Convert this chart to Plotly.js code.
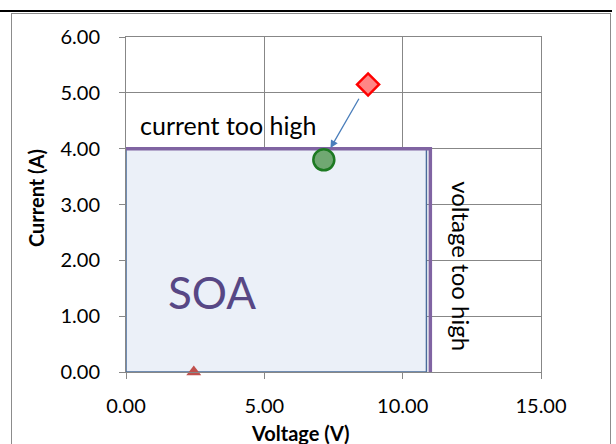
<!DOCTYPE html>
<html>
<head>
<meta charset="utf-8">
<script src="https://cdn.plot.ly/plotly-3.0.1.min.js"></script>
<style>
  html, body { margin: 0; padding: 0; background: #ffffff; }
  #wrap { position: relative; width: 616px; height: 444px; overflow: hidden; }
  #topRule { position: absolute; left: 0; top: 10px; width: 612px; height: 2px; background: #000; }
  #frame { position: absolute; left: 11px; top: 13px; width: 598px; height: 440px; border: 1px solid #8c8c8c; }
  #chart { position: absolute; left: 0; top: 0; width: 616px; height: 444px; }
</style>
</head>
<body>
<div id="wrap">
  <div id="topRule"></div>
  <div id="frame"></div>
  <div id="chart"></div>
</div>
<script>
// Safe operating area outline (voltage in V, current in A)
const soaVoltage = [0, 0, 10.86, 10.86, 0];
const soaCurrent = [0, 4, 4, 0, 0];

// Limit lines: max current 4 A, max voltage 11 V
const limitVoltage = [0, 11, 11];
const limitCurrent = [4, 4, 0];

// Operating points
const okVoltage = [7.15];
const okCurrent = [3.8];
const overVoltage = [8.75];
const overCurrent = [5.15];
const lowVoltage = [2.45];
const lowCurrent = [0];

// Arrow from the over-current point back onto the current limit
const arrowFrom = [8.45, 4.92];
const arrowTo = [7.39, 4.01];

// Axis ticks
const xTicks = [0, 5, 10, 15];
const yTicks = [0, 1, 2, 3, 4, 5, 6];

const font = 'Lato';
const grid = '#878787';

const traces = [
  {
    x: soaVoltage, y: soaCurrent, type: 'scatter', mode: 'lines',
    fill: 'toself', fillcolor: '#ebf0f8',
    line: { color: '#4a6c9b', width: 1.5 }, hoverinfo: 'skip'
  },
  {
    x: limitVoltage, y: limitCurrent, type: 'scatter', mode: 'lines',
    line: { color: '#8064a2', width: 3.5 }, hoverinfo: 'skip', cliponaxis: false
  },
  {
    x: lowVoltage, y: lowCurrent, type: 'scatter', mode: 'markers', cliponaxis: false,
    marker: { symbol: 'triangle-up', size: 13, color: '#c0504d', line: { width: 0 } }
  },
  {
    x: okVoltage, y: okCurrent, type: 'scatter', mode: 'markers', cliponaxis: false,
    marker: { symbol: 'circle', size: 21, color: '#70a872', line: { color: '#1d7a22', width: 2.5 } }
  },
  {
    x: overVoltage, y: overCurrent, type: 'scatter', mode: 'markers', cliponaxis: false,
    marker: { symbol: 'diamond', size: 17, color: '#ff8585', line: { color: '#ff0000', width: 2.5 } }
  }
];

const layout = {
  width: 616, height: 444,
  margin: { l: 126, r: 75, t: 37, b: 72 },
  paper_bgcolor: 'rgba(0,0,0,0)', plot_bgcolor: 'rgba(0,0,0,0)',
  showlegend: false,
  font: { family: font, size: 20, color: '#000' },
  xaxis: {
    range: [0, 15], tickmode: 'array', tickvals: xTicks, tickformat: '.2f',
    showgrid: true, gridcolor: grid, gridwidth: 1,
    showline: true, mirror: true, linecolor: grid, linewidth: 1,
    zeroline: false, ticks: 'outside', ticklen: 6, tickcolor: grid,
    ticklabelstandoff: 10,
    tickfont: { family: font, size: 20, color: '#000' }
  },
  yaxis: {
    range: [0, 6], tickmode: 'array', tickvals: yTicks, tickformat: '.2f',
    showgrid: true, gridcolor: grid, gridwidth: 1,
    showline: true, mirror: true, linecolor: grid, linewidth: 1,
    zeroline: false, ticks: 'outside', ticklen: 6, tickcolor: grid,
    ticklabelstandoff: 15,
    tickfont: { family: font, size: 20, color: '#000' }
  },
  annotations: [
    {
      x: arrowTo[0], y: arrowTo[1], ax: arrowFrom[0], ay: arrowFrom[1],
      xref: 'x', yref: 'y', axref: 'x', ayref: 'y',
      showarrow: true, arrowhead: 2, arrowsize: 1.2, arrowwidth: 1.3,
      arrowcolor: '#4a7ebb', text: ''
    },
    {
      x: 3.68, y: 4.43, xref: 'x', yref: 'y', text: 'current too high',
      showarrow: false, font: { family: font, size: 25, color: '#000' }
    },
    {
      x: 3.1, y: 1.43, xref: 'x', yref: 'y', text: 'SOA',
      showarrow: false, font: { family: font, size: 44, color: '#574785' }
    },
    {
      x: 12.1, y: 1.9, xref: 'x', yref: 'y', text: 'voltage too high', textangle: 90,
      showarrow: false, font: { family: font, size: 24, color: '#000' }
    },
    {
      x: 300, y: 433, text: '<b>Voltage (V)</b>',
      showarrow: false, font: { family: font, size: 20, color: '#000' }
    },
    {
      x: 36, y: 198, text: '<b>Current (A)</b>', textangle: -90,
      showarrow: false, font: { family: font, size: 20, color: '#000' }
    }
  ]
};

// Axis title positions are given in pixels; convert them to paper fractions
const pw = 616 - 126 - 75, ph = 444 - 37 - 72;
[4, 5].forEach(function (i) {
  const a = layout.annotations[i];
  a.xref = 'paper';
  a.yref = 'paper';
  a.xanchor = 'center';
  a.yanchor = 'middle';
  a.x = (a.x - 126) / pw;
  a.y = (444 - 72 - a.y) / ph;
});

Plotly.newPlot('chart', traces, layout, { displayModeBar: false, staticPlot: true });
</script>
</body>
</html>
